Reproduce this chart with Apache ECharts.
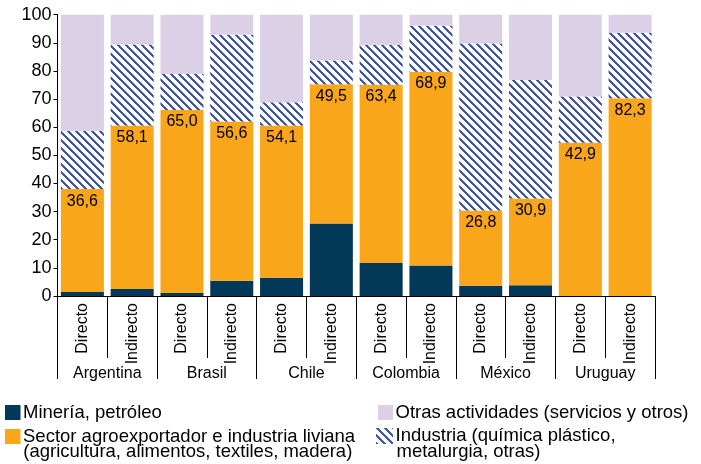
<!DOCTYPE html>
<html>
<head>
<meta charset="utf-8">
<script src="https://cdn.jsdelivr.net/npm/echarts@6/dist/echarts.min.js"></script>
<style>html,body{margin:0;padding:0;background:#fff;}#c{width:701px;height:464px;}</style>
</head>
<body>
<div id="c"></div>
<script>
const countries = ['Argentina', 'Brasil', 'Chile', 'Colombia', 'México', 'Uruguay'];
const subcats = ['Directo', 'Indirecto', 'Directo', 'Indirecto', 'Directo', 'Indirecto',
                 'Directo', 'Indirecto', 'Directo', 'Indirecto', 'Directo', 'Indirecto'];
const mineria   = [1.4, 2.5, 1.1, 5.4, 6.5, 25.8, 11.7, 10.8, 3.6, 3.8, 0, 0];
const agro      = [36.6, 58.1, 65.0, 56.6, 54.1, 49.5, 63.4, 68.9, 26.8, 30.9, 54.5, 70.3];
const industria = [20.7, 28.8, 12.8, 30.9, 8.3, 8.4, 14.1, 16.4, 59.4, 42.1, 16.4, 23.3];
const otras     = [41.3, 10.6, 21.1, 7.1, 31.1, 16.3, 10.8, 3.9, 10.2, 23.2, 29.1, 6.4];
const agroLabels = ['36,6', '58,1', '65,0', '56,6', '54,1', '49,5', '63,4', '68,9', '26,8', '30,9', '42,9', '82,3'];
const names = [
  'Minería, petróleo',
  'Sector agroexportador e industria liviana (agricultura, alimentos, textiles, madera)',
  'Industria (química plástico, metalurgia, otras)',
  'Otras actividades (servicios y otros)'
];
const legendFirst = {};
legendFirst[names[0]] = 'Minería, petróleo';
legendFirst[names[1]] = 'Sector agroexportador e industria liviana';
legendFirst[names[2]] = 'Industria (química plástico,';
legendFirst[names[3]] = 'Otras actividades (servicios y otros)';

const FONT = '"Liberation Sans", Arial, sans-serif';
const LEG_FS = 18.5;

function hatch() {
  const c = document.createElement('canvas');
  c.width = 8; c.height = 8;
  const ctx = c.getContext('2d');
  const img = ctx.createImageData(8, 8);
  for (let y = 0; y < 8; y++) {
    for (let x = 0; x < 8; x++) {
      const d = (((x - y) % 8) + 8) % 8;
      const i = (y * 8 + x) * 4;
      if (d < 3) { img.data[i] = 0x3f; img.data[i+1] = 0x55; img.data[i+2] = 0xaa; }
      else { img.data[i] = 255; img.data[i+1] = 255; img.data[i+2] = 255; }
      img.data[i+3] = 255;
    }
  }
  ctx.putImageData(img, 0, 0);
  return c;
}
const hatchPattern = { image: hatch(), repeat: 'repeat' };

const chart = echarts.init(document.getElementById('c'));
function legendBox(name, left, top, w, h) {
  return {
    data: [name], left: left, top: top, padding: 0, orient: 'horizontal',
    icon: 'rect', itemWidth: w, itemHeight: h, selectedMode: false,
    formatter: n => legendFirst[n],
    textStyle: { fontFamily: FONT, fontSize: LEG_FS, color: '#000', lineHeight: 15, padding: [0, 0, 0, -2.5] }
  };
}
chart.setOption({
  animation: false,
  backgroundColor: '#fff',
  grid: { left: 57.5, right: 46, top: 14.7, bottom: 168, containLabel: false },
  legend: [
    legendBox(names[0], 5, 403, 15.5, 15),
    legendBox(names[1], 5, 427, 15.5, 15),
    legendBox(names[3], 378, 403, 15, 15),
    legendBox(names[2], 376, 426.5, 17, 16)
  ],
  graphic: [
    { type: 'text', x: 23.3, y: 452, style: { text: '(agricultura, alimentos, textiles, madera)', font: LEG_FS + 'px ' + FONT, fill: '#000', verticalAlign: 'middle' } },
    { type: 'text', x: 396.5, y: 452, style: { text: 'metalurgia, otras)', font: LEG_FS + 'px ' + FONT, fill: '#000', verticalAlign: 'middle' } }
  ],
  xAxis: [
    {
      type: 'category', data: subcats, position: 'bottom',
      axisLine: { show: true, lineStyle: { color: '#000', width: 1 } },
      axisTick: { show: true, interval: 0, length: 62, lineStyle: { color: '#000' } },
      axisLabel: { interval: 0, rotate: 90, margin: 7, fontFamily: FONT, fontSize: 16, color: '#000' },
      splitLine: { show: false }
    },
    {
      type: 'category', data: countries, position: 'bottom',
      axisLine: { show: false },
      axisTick: { show: true, interval: 0, length: 83, lineStyle: { color: '#000' } },
      axisLabel: { interval: 0, margin: 70, fontFamily: FONT, fontSize: 16, color: '#000' },
      splitLine: { show: false }
    }
  ],
  yAxis: {
    type: 'value', min: 0, max: 100, interval: 10,
    axisLine: { show: true, lineStyle: { color: '#000' } },
    axisTick: { show: true, length: 4, lineStyle: { color: '#000' } },
    axisLabel: { margin: 6, fontFamily: FONT, fontSize: 18, color: '#000' },
    splitLine: { show: false }
  },
  series: [
    { name: names[0], type: 'bar', stack: 't', data: mineria, barCategoryGap: '13.6%',
      itemStyle: { color: '#023858' } },
    { name: names[1], type: 'bar', stack: 't', data: agro, barCategoryGap: '13.6%',
      itemStyle: { color: '#F9A61A' },
      label: { show: true, position: 'insideTop', distance: 4, fontFamily: FONT, fontSize: 16, color: '#000',
               formatter: p => agroLabels[p.dataIndex] } },
    { name: names[2], type: 'bar', stack: 't', data: industria, barCategoryGap: '13.6%',
      itemStyle: { color: hatchPattern } },
    { name: names[3], type: 'bar', stack: 't', data: otras, barCategoryGap: '13.6%',
      itemStyle: { color: '#DCD0E6' } }
  ]
});
</script>
</body>
</html>
